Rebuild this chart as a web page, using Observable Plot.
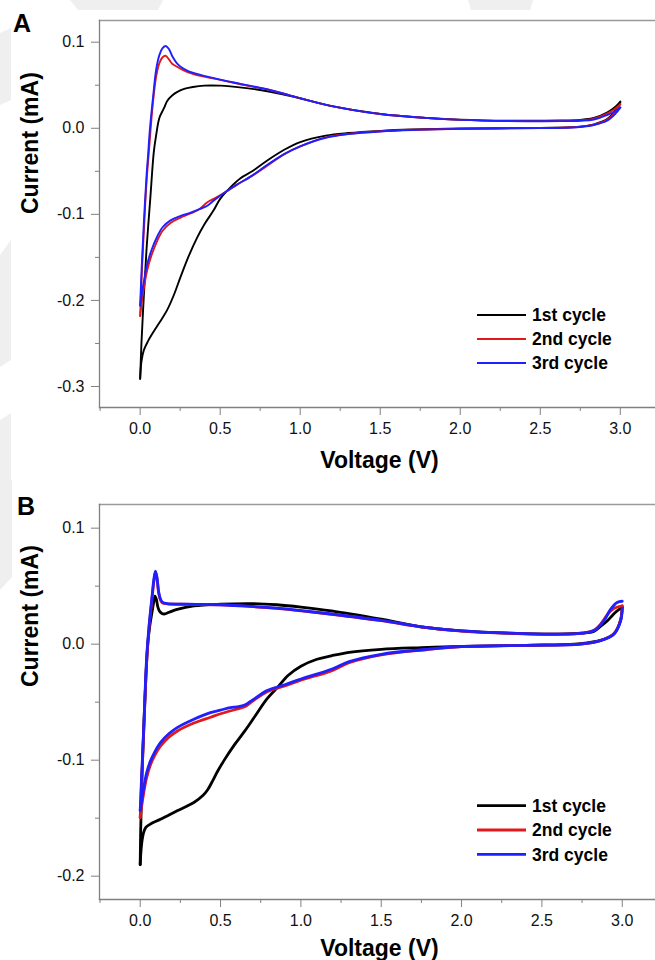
<!DOCTYPE html>
<html><head><meta charset="utf-8">
<script src="https://cdn.jsdelivr.net/npm/d3@7"></script>
<script src="https://cdn.jsdelivr.net/npm/@observablehq/plot@0.6"></script>
<style>
html,body{margin:0;padding:0;background:#fff;overflow:hidden}
#wrap{position:relative;width:655px;height:960px;font-family:Arial,"Liberation Sans",Helvetica,sans-serif}
#bg{position:absolute;left:0;top:0}
.panel{position:absolute;left:0;width:655px;height:480px}
</style></head>
<body>
<div id="wrap">
<svg id="bg" width="655" height="960"></svg>
<div class="panel" id="pA" style="top:0"></div>
<div class="panel" id="pB" style="top:480px"></div>
</div>
<script>
// ---------- data ----------
const series = ["1st cycle", "2nd cycle", "3rd cycle"];
const colors = ["#000000", "#e0191b", "#1f1fff"];

const majorX = [0, 0.5, 1, 1.5, 2, 2.5, 3];
const minorX = [-0.25, 0.25, 0.75, 1.25, 1.75, 2.25, 2.75];
const A_majorY = [-0.3, -0.2, -0.1, 0, 0.1];
const A_minorY = [-0.25, -0.15, -0.05, 0.05];
const B_majorY = [-0.2, -0.1, 0, 0.1];
const B_minorY = [-0.15, -0.05, 0.05];

// Panel A : [voltage V, current mA]
const A1_cathodic = [[3.0,0.030],[2.97,0.021],[2.92,0.011],[2.835,0.0046],[2.73,0.0016],[2.5,0.0005],[2.0,-0.0003],[1.7,-0.0015],[1.5,-0.003],[1.3,-0.0055],[1.16,-0.0085],[1.0,-0.016],[0.9,-0.025],[0.79,-0.038],[0.7,-0.050],[0.627,-0.058],[0.564,-0.0686],[0.5,-0.082],[0.46,-0.095],[0.4,-0.112],[0.356,-0.127],[0.3,-0.150],[0.252,-0.173],[0.21,-0.194],[0.169,-0.211],[0.12,-0.226],[0.085,-0.236],[0.05,-0.247],[0.0225,-0.258],[0.008,-0.271],[0,-0.291]];
const A1_anodic = [[0,-0.291],[0.008,-0.25],[0.0225,-0.1965],[0.04,-0.14],[0.064,-0.080],[0.085,-0.028],[0.1,-0.008],[0.12,0.012],[0.148,0.023],[0.17,0.032],[0.2,0.038],[0.23,0.042],[0.28,0.046],[0.33,0.048],[0.4,0.0495],[0.5,0.0495],[0.564,0.0487],[0.73,0.045],[0.94,0.0375],[1.19,0.026],[1.5,0.0167],[1.8,0.012],[2.0,0.010],[2.3,0.0088],[2.627,0.009],[2.75,0.0098],[2.835,0.012],[2.92,0.0186],[2.97,0.025],[3.0,0.031]];
const A2_cathodic = [[3.0,0.028],[2.97,0.019],[2.92,0.010],[2.835,0.0042],[2.73,0.0014],[2.5,0.0003],[2.0,-0.0006],[1.7,-0.0018],[1.5,-0.0035],[1.3,-0.0065],[1.16,-0.0105],[1.0,-0.021],[0.9,-0.030],[0.79,-0.044],[0.7,-0.055],[0.6,-0.066],[0.533,-0.074],[0.46,-0.082],[0.42,-0.086],[0.37,-0.094],[0.315,-0.099],[0.25,-0.104],[0.19,-0.110],[0.14,-0.119],[0.106,-0.131],[0.07,-0.148],[0.044,-0.165],[0.023,-0.186],[0.01,-0.202],[0,-0.218]];
const A2_anodic = [[0,-0.218],[0.01,-0.17],[0.023,-0.12],[0.04,-0.062],[0.055,-0.026],[0.065,-0.002],[0.08,0.030],[0.1,0.060],[0.12,0.0755],[0.14,0.0825],[0.158,0.0842],[0.18,0.080],[0.2,0.075],[0.23,0.0715],[0.26,0.0685],[0.3,0.065],[0.377,0.0608],[0.5,0.0562],[0.627,0.0512],[0.8,0.0448],[0.94,0.038],[1.19,0.026],[1.5,0.0165],[1.8,0.0118],[2.0,0.0098],[2.3,0.0085],[2.627,0.0085],[2.75,0.0092],[2.835,0.0112],[2.92,0.0172],[2.97,0.023],[3.0,0.028]];
const A3_cathodic = [[3.0,0.024],[2.97,0.017],[2.92,0.009],[2.835,0.0038],[2.73,0.0012],[2.5,0.0002],[2.0,-0.0007],[1.7,-0.002],[1.5,-0.0037],[1.3,-0.0068],[1.16,-0.011],[1.0,-0.021],[0.9,-0.030],[0.79,-0.043],[0.7,-0.055],[0.6,-0.066],[0.533,-0.074],[0.46,-0.084],[0.42,-0.090],[0.37,-0.094],[0.315,-0.098],[0.25,-0.102],[0.19,-0.107],[0.14,-0.115],[0.106,-0.126],[0.07,-0.142],[0.044,-0.158],[0.023,-0.178],[0.01,-0.193],[0,-0.206]];
const A3_anodic = [[0,-0.206],[0.01,-0.16],[0.023,-0.11],[0.04,-0.055],[0.05,-0.03],[0.06,-0.003],[0.08,0.035],[0.1,0.068],[0.12,0.085],[0.14,0.093],[0.16,0.0955],[0.18,0.092],[0.2,0.084],[0.23,0.0755],[0.26,0.0705],[0.3,0.0665],[0.377,0.062],[0.5,0.0565],[0.627,0.0516],[0.8,0.045],[0.94,0.038],[1.19,0.026],[1.5,0.0165],[1.8,0.0118],[2.0,0.0098],[2.3,0.0085],[2.627,0.0083],[2.75,0.0088],[2.835,0.0102],[2.92,0.0155],[2.97,0.020],[3.0,0.024]];

// Panel B
const B1_cathodic = [[3.0,0.0316],[2.99,0.021],[2.95,0.009],[2.87,0.0035],[2.74,0.0005],[2.4,-0.001],[2.0,-0.002],[1.75,-0.003],[1.5,-0.0044],[1.3,-0.007],[1.19,-0.010],[1.1,-0.013],[1.0,-0.019],[0.92,-0.027],[0.856,-0.037],[0.79,-0.047],[0.71,-0.063],[0.65,-0.075],[0.585,-0.087],[0.52,-0.1006],[0.48,-0.110],[0.45,-0.118],[0.42,-0.1255],[0.39,-0.1305],[0.334,-0.1365],[0.23,-0.1437],[0.126,-0.151],[0.064,-0.155],[0.035,-0.158],[0.02,-0.163],[0.01,-0.171],[0.004,-0.18],[0,-0.19]];
const B1_anodic = [[0,-0.19],[0.003,-0.16],[0.01,-0.12],[0.022,-0.072],[0.035,-0.03],[0.047,0.0],[0.06,0.016],[0.075,0.0287],[0.085,0.037],[0.092,0.0415],[0.1,0.039],[0.11,0.032],[0.12,0.0285],[0.135,0.0265],[0.15,0.026],[0.18,0.0275],[0.23,0.030],[0.334,0.033],[0.5,0.0345],[0.7,0.035],[0.85,0.034],[1.0,0.032],[1.19,0.0287],[1.5,0.0215],[1.75,0.015],[2.0,0.0115],[2.3,0.0095],[2.6,0.0087],[2.75,0.0095],[2.823,0.011],[2.87,0.016],[2.906,0.020],[2.94,0.025],[2.968,0.0287],[3.0,0.0316]];
const B2_cathodic = [[3.0,0.033],[2.99,0.021],[2.95,0.0095],[2.864,0.003],[2.74,0.0],[2.4,-0.001],[2.0,-0.0022],[1.78,-0.0048],[1.5,-0.0092],[1.3,-0.016],[1.19,-0.023],[1.0,-0.031],[0.9,-0.036],[0.79,-0.041],[0.7,-0.049],[0.65,-0.054],[0.6,-0.056],[0.5,-0.060],[0.437,-0.063],[0.334,-0.068],[0.23,-0.075],[0.18,-0.080],[0.126,-0.088],[0.09,-0.096],[0.064,-0.104],[0.04,-0.115],[0.022,-0.128],[0.01,-0.139],[0.003,-0.146],[0,-0.1495]];
const B2_anodic = [[0,-0.1495],[0.01,-0.115],[0.022,-0.076],[0.039,-0.018],[0.054,0.012],[0.065,0.028],[0.075,0.041],[0.085,0.054],[0.095,0.062],[0.105,0.056],[0.115,0.044],[0.126,0.038],[0.14,0.0355],[0.168,0.0348],[0.3,0.0343],[0.5,0.0338],[0.7,0.0323],[0.85,0.0308],[1.0,0.0288],[1.19,0.0258],[1.5,0.0203],[1.75,0.0148],[2.0,0.0113],[2.3,0.0093],[2.615,0.0086],[2.75,0.0095],[2.823,0.012],[2.87,0.018],[2.91,0.026],[2.95,0.031],[3.0,0.033]];
const B3_cathodic = [[3.0,0.031],[2.99,0.020],[2.947,0.0086],[2.864,0.003],[2.74,0.0],[2.4,-0.001],[2.0,-0.002],[1.78,-0.0045],[1.5,-0.0087],[1.3,-0.015],[1.19,-0.0216],[1.0,-0.030],[0.9,-0.035],[0.79,-0.040],[0.7,-0.048],[0.65,-0.0525],[0.6,-0.054],[0.562,-0.0547],[0.5,-0.0568],[0.437,-0.059],[0.334,-0.0647],[0.23,-0.0719],[0.18,-0.077],[0.126,-0.0848],[0.09,-0.093],[0.064,-0.1006],[0.04,-0.111],[0.022,-0.1236],[0.01,-0.134],[0.003,-0.141],[0,-0.1434]];
const B3_anodic = [[0,-0.1434],[0.01,-0.11],[0.022,-0.072],[0.039,-0.0144],[0.054,0.0143],[0.065,0.030],[0.075,0.043],[0.085,0.056],[0.095,0.063],[0.105,0.057],[0.115,0.045],[0.126,0.039],[0.14,0.036],[0.168,0.035],[0.3,0.0345],[0.5,0.034],[0.7,0.0325],[0.85,0.031],[1.0,0.029],[1.19,0.026],[1.5,0.0205],[1.75,0.015],[2.0,0.0115],[2.3,0.0095],[2.615,0.0086],[2.75,0.0095],[2.823,0.0115],[2.885,0.020],[2.927,0.030],[2.968,0.036],[3.0,0.037]];

// ---------- build ----------
function rows(branches) {
  const out = [];
  branches.forEach(([name, branch, arr]) => arr.forEach(([V, I]) => out.push({series: name, key: name + branch, V, I})));
  return out;
}
const rowsA = rows([[series[0],"c",A1_cathodic],[series[0],"a",A1_anodic],[series[1],"c",A2_cathodic],[series[1],"a",A2_anodic],[series[2],"c",A3_cathodic],[series[2],"a",A3_anodic]]);
const rowsB = rows([[series[0],"c",B1_cathodic],[series[0],"a",B1_anodic],[series[1],"c",B2_cathodic],[series[1],"a",B2_anodic],[series[2],"c",B3_cathodic],[series[2],"a",B3_anodic]]);

const axisColor = "#808080";
const fmt = d => d.toFixed(1);

function panel(o) {
  const svg = Plot.plot({
    width: 655, height: 480,
    marginLeft: 99, marginRight: 0, marginTop: o.mt, marginBottom: o.mb,
    x: {domain: o.xd}, y: {domain: o.yd},
    color: {domain: series, range: colors},
    style: {fontFamily: "Arial, 'Liberation Sans', Helvetica, sans-serif", fontSize: "16px", background: "transparent", color: "#111", overflow: "visible"},
    marks: [
      Plot.frame({anchor: "top", stroke: "#9a9a9a", strokeWidth: 1.5}),
      Plot.frame({anchor: "left", stroke: axisColor, strokeWidth: 1.3}),
      Plot.frame({anchor: "bottom", stroke: axisColor, strokeWidth: 1.3}),
      Plot.axisX({ticks: majorX, tickSize: 8, tickPadding: 7, tickFormat: fmt, stroke: axisColor, fill: "#111", fontSize: 16, label: null}),
      Plot.axisX({ticks: minorX, tickSize: 4, tickFormat: () => "", stroke: axisColor, label: null}),
      Plot.axisY({ticks: o.majorY, tickSize: 8, tickPadding: 7, tickFormat: fmt, stroke: axisColor, fill: "#111", fontSize: 16, label: null}),
      Plot.axisY({ticks: o.minorY, tickSize: 4, tickFormat: () => "", stroke: axisColor, label: null}),
      Plot.line(o.data, {x: "V", y: "I", z: "key", stroke: "series", strokeWidth: o.lw, curve: "catmull-rom", strokeLinejoin: "round"}),
      Plot.text(["Voltage (V)"], {text: d => d, frameAnchor: "bottom", lineAnchor: "bottom", dy: o.xlDy, dx: 2, fontSize: 23, fontWeight: "bold", fill: "#000"}),
      Plot.text(["Current (mA)"], {text: d => d, frameAnchor: "left", rotate: -90, lineAnchor: "bottom", dx: -61.5, dy: o.ylDy, fontSize: 23, fontWeight: "bold", fill: "#000"})
    ]
  });
  const s = d3.select(svg);
  s.append("text").attr("x", o.labX).attr("y", o.labY).attr("text-anchor", "start").attr("font-size", 25).attr("font-weight", "bold").attr("fill", "#000").text(o.label);
  const lg = s.append("g").attr("text-anchor", "start");
  series.forEach((name, i) => {
    const y = o.legY[i];
    lg.append("line").attr("x1", 477).attr("x2", 526).attr("y1", y).attr("y2", y).attr("stroke", colors[i]).attr("stroke-width", o.lw);
    lg.append("text").attr("x", 532).attr("y", y).attr("dy", "0.36em").attr("font-size", 17.5).attr("font-weight", "bold").attr("fill", "#000").text(name);
  });
  return svg;
}

document.getElementById("pA").appendChild(panel({
  data: rowsA, mt: 20, mb: 73, xd: [-0.254, 3.22], yd: [-0.3244, 0.1252],
  majorY: A_majorY, minorY: A_minorY, lw: 1.9, xlDy: 60, ylDy: 0,
  label: "A", labX: 13, labY: 32, legY: [315, 339, 363]
}));
document.getElementById("pB").appendChild(panel({
  data: rowsB, mt: 24, mb: 61, xd: [-0.2533, 3.207], yd: [-0.2201, 0.1204],
  majorY: B_majorY, minorY: B_minorY, lw: 2.8, xlDy: 56, ylDy: -15,
  label: "B", labX: 17, labY: 35, legY: [325.7, 350, 374.3]
}));

// faint background watermark fragments
const bgShapes = [
  [[70,0],[163,0],[158,10],[78,10]],
  [[468,0],[533,0],[530,10],[471,10]],
  [[0,33],[11,28],[11,100],[0,105]],
  [[0,255],[11,240],[11,360],[0,367]],
  [[0,420],[11,413],[11,480],[0,480]],
  [[0,480],[12,480],[12,577],[0,590]]
];
d3.select("#bg").selectAll("polygon").data(bgShapes).join("polygon")
  .attr("points", d => d.map(p => p.join(",")).join(" "))
  .attr("fill", "#efefef");
</script>
</body></html>
